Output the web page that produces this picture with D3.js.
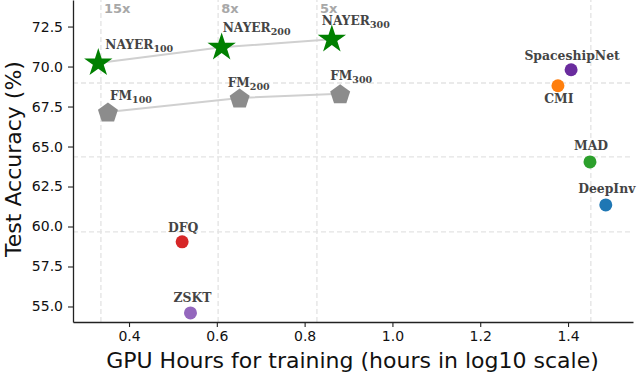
<!DOCTYPE html>
<html>
<head>
<meta charset="utf-8">
<script src="https://cdn.jsdelivr.net/npm/d3@7"></script>
<style>
  body { margin: 0; background: #fff; }
  svg { display: block; }
</style>
</head>
<body>
<div id="chart"></div>
<script>
// data
const nayerNames = ["NAYER", "NAYER", "NAYER"];
const nayerSubs = ["100", "200", "300"];
const nayerHours = [0.330, 0.611, 0.862];
const nayerAcc = [70.22, 71.2, 71.7];

const fmNames = ["FM", "FM", "FM"];
const fmSubs = ["100", "200", "300"];
const fmHours = [0.352, 0.652, 0.881];
const fmAcc = [67.16, 68.04, 68.3];

const baseNames = ["DFQ", "ZSKT", "SpaceshipNet", "CMI", "MAD", "DeepInv"];
const baseHours = [0.521, 0.540, 1.407, 1.377, 1.450, 1.486];
const baseAcc = [59.04, 54.6, 69.8, 68.8, 64.04, 61.35];
const baseColors = ["#d62728", "#9467bd", "#6a2c9e", "#ff7f0e", "#2ca02c", "#1f77b4"];

const speedLabels = ["15x", "8x", "5x"];
const speedHours = [0.336, 0.603, 0.828];
const refHours = [0.336, 0.603, 0.828, 1.452];
const refAcc = [68.97, 64.35, 59.66];

const xTicks = [0.4, 0.6, 0.8, 1.0, 1.2, 1.4];
const yTicks = [55.0, 57.5, 60.0, 62.5, 65.0, 67.5, 70.0, 72.5];

const width = 640, height = 376;
const margin = {left: 73, right: 7, top: 0, bottom: 54};

const x = d3.scaleLinear().domain([0.2724, 1.548]).range([margin.left, width - margin.right]);
const y = d3.scaleLinear().domain([54.03, 74.16]).range([height - margin.bottom, margin.top]);

const svg = d3.select("#chart").append("svg").attr("width", width).attr("height", height);

// dashed reference lines
svg.append("g").selectAll("line").data(refHours).enter().append("line")
    .attr("x1", d => x(d)).attr("x2", d => x(d))
    .attr("y1", y.range()[0]).attr("y2", y.range()[1])
    .attr("stroke", "#e3e3e3").attr("stroke-width", 1.3).attr("stroke-dasharray", "5,3");
svg.append("g").selectAll("line").data(refAcc).enter().append("line")
    .attr("x1", x.range()[0]).attr("x2", x.range()[1])
    .attr("y1", d => y(d)).attr("y2", d => y(d))
    .attr("stroke", "#e3e3e3").attr("stroke-width", 1.3).attr("stroke-dasharray", "5,3");

// speedup labels
svg.append("g").selectAll("text").data(speedLabels).enter().append("text")
    .attr("x", (d, i) => x(speedHours[i]) + 3).attr("y", 13)
    .attr("font-family", "DejaVu Sans").attr("font-size", 13).attr("font-weight", "bold")
    .attr("fill", "#a8a8a8").text(d => d);

// connecting lines
const line = d3.line().x(d => x(d[0])).y(d => y(d[1]));
svg.append("path").datum(nayerHours.map((h, i) => [h, nayerAcc[i]]))
    .attr("d", line).attr("fill", "none").attr("stroke", "#d0d0d0").attr("stroke-width", 2);
svg.append("path").datum(fmHours.map((h, i) => [h, fmAcc[i]]))
    .attr("d", line).attr("fill", "none").attr("stroke", "#d0d0d0").attr("stroke-width", 2);

// markers
const star = d3.symbol().type(d3.symbolStar).size(250);
svg.append("g").selectAll("path").data(nayerHours).enter().append("path")
    .attr("d", star)
    .attr("transform", (d, i) => `translate(${x(d)},${y(nayerAcc[i])})`)
    .attr("fill", "#008000");

const pentagon = r => d3.range(5).map(k => {
    const a = -Math.PI / 2 + k * 2 * Math.PI / 5;
    return [r * Math.cos(a), r * Math.sin(a)];
});
svg.append("g").selectAll("polygon").data(fmHours).enter().append("polygon")
    .attr("points", pentagon(10.5).map(p => p.join(",")).join(" "))
    .attr("transform", (d, i) => `translate(${x(d)},${y(fmAcc[i]) + 1})`)
    .attr("fill", "#8c8c8c");

svg.append("g").selectAll("circle").data(baseHours).enter().append("circle")
    .attr("cx", d => x(d)).attr("cy", (d, i) => y(baseAcc[i]))
    .attr("r", 6.5).attr("fill", (d, i) => baseColors[i]);

// labels
const labFont = "DejaVu Serif";
const labColor = "#444";
const nayerOff = [[7, -14], [1, -15], [-10, -14]];
const fmOff = [[2, -12], [-12, -11], [-10, -14]];
function subLabel(names, subs, hs, as, offs) {
    const t = svg.append("g").selectAll("text").data(names).enter().append("text")
        .attr("x", (d, i) => x(hs[i]) + offs[i][0])
        .attr("y", (d, i) => y(as[i]) + offs[i][1])
        .attr("font-family", labFont).attr("font-weight", "bold")
        .attr("font-size", 12.2).attr("fill", labColor);
    t.append("tspan").text(d => d);
    t.append("tspan").attr("dy", 3).attr("font-size", 9.5).text((d, i) => subs[i]);
}
subLabel(nayerNames, nayerSubs, nayerHours, nayerAcc, nayerOff);
subLabel(fmNames, fmSubs, fmHours, fmAcc, fmOff);

const baseOff = [[1, -10], [2, -11], [1, -10], [1, 17], [1, -12], [1, -12]];
svg.append("g").selectAll("text").data(baseNames).enter().append("text")
    .attr("x", (d, i) => x(baseHours[i]) + baseOff[i][0])
    .attr("y", (d, i) => y(baseAcc[i]) + baseOff[i][1])
    .attr("text-anchor", "middle")
    .attr("font-family", labFont).attr("font-weight", "bold")
    .attr("font-size", 12.4).attr("fill", labColor).text(d => d);

// axes
const xAxis = svg.append("g")
    .attr("transform", `translate(0,${height - margin.bottom})`)
    .call(d3.axisBottom(x).tickValues(xTicks).tickFormat(d3.format(".1f"))
        .tickSize(5).tickPadding(4).tickSizeOuter(0));
const yAxis = svg.append("g")
    .attr("transform", `translate(${margin.left},0)`)
    .call(d3.axisLeft(y).tickValues(yTicks).tickFormat(d3.format(".1f"))
        .tickSize(5).tickPadding(5).tickSizeOuter(0));
[xAxis, yAxis].forEach(a => {
    a.select(".domain").attr("stroke", "#222").attr("stroke-width", 1.3);
    a.selectAll(".tick line").attr("stroke", "#222").attr("stroke-width", 1.1);
    a.selectAll(".tick text").attr("font-family", "DejaVu Sans").attr("font-size", 14).attr("fill", "#111");
});

svg.append("text")
    .attr("x", 352.5).attr("y", 368)
    .attr("text-anchor", "middle")
    .attr("font-family", "DejaVu Sans").attr("font-size", 22).attr("fill", "#111")
    .text("GPU Hours for training (hours in log10 scale)");
svg.append("text")
    .attr("transform", `translate(21,159) rotate(-90)`)
    .attr("text-anchor", "middle")
    .attr("font-family", "DejaVu Sans").attr("font-size", 22).attr("fill", "#111")
    .text("Test Accuracy (%)");
</script>
</body>
</html>
